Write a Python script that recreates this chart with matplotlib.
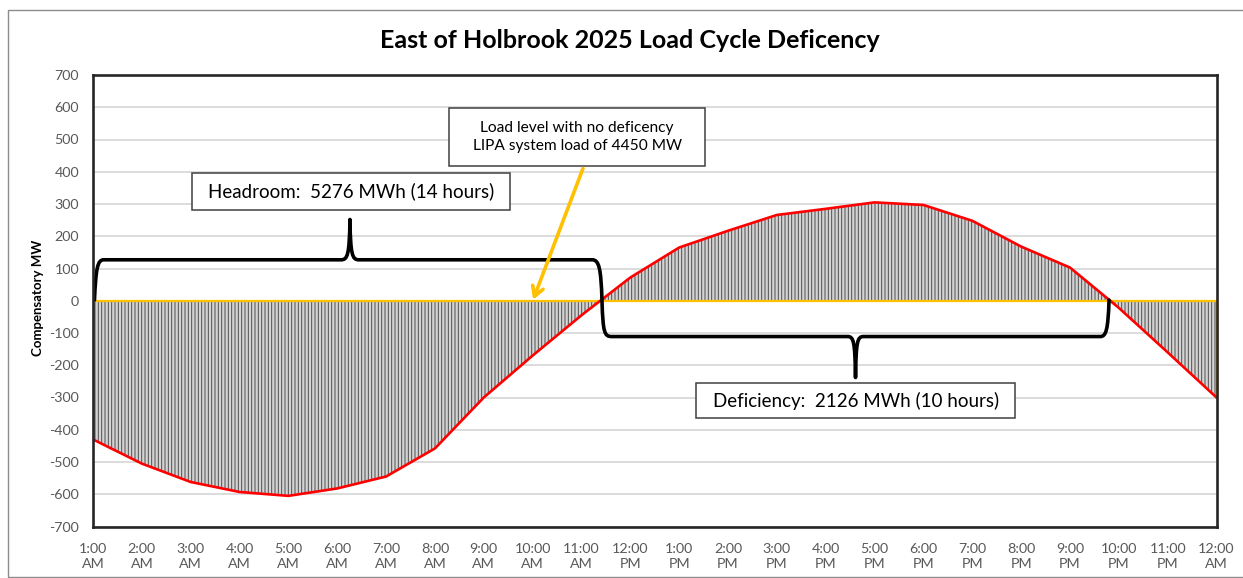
import matplotlib
matplotlib.use("Agg")
import matplotlib.pyplot as plt
from matplotlib.path import Path
from matplotlib.patches import PathPatch, Rectangle
import numpy as np

plt.rcParams['font.family'] = ['Lato', 'DejaVu Sans']
plt.rcParams['hatch.linewidth'] = 0.7

# ---- data ----
hours = ["1:00\nAM", "2:00\nAM", "3:00\nAM", "4:00\nAM", "5:00\nAM", "6:00\nAM",
         "7:00\nAM", "8:00\nAM", "9:00\nAM", "10:00\nAM", "11:00\nAM", "12:00\nPM",
         "1:00\nPM", "2:00\nPM", "3:00\nPM", "4:00\nPM", "5:00\nPM", "6:00\nPM",
         "7:00\nPM", "8:00\nPM", "9:00\nPM", "10:00\nPM", "11:00\nPM", "12:00\nAM"]
compensatory_mw = [-430, -505, -562, -593, -605, -582, -545, -458, -300, -170, -45, 72,
                   165, 217, 266, 285, 305, 297, 248, 168, 103, -22, -160, -300]
y_ticks = list(range(-700, 701, 100))

title = "East of Holbrook 2025 Load Cycle Deficency"
ylabel = "Compensatory MW"
headroom_text = "Headroom:  5276 MWh (14 hours)"
deficiency_text = "Deficiency:  2126 MWh (10 hours)"
loadlevel_text = "Load level with no deficency\nLIPA system load of 4450 MW"

W, H = 1243, 578
fig = plt.figure(figsize=(W / 100, H / 100), dpi=100)
ax = fig.add_axes([93 / W, 1 - 526.5 / H, (1216.5 - 93) / W, (526.5 - 75) / H])

# outer chart border (right side falls outside the image)
fig.patches.append(Rectangle((8 / W, 1 - 577 / H), (W + 60 - 8) / W, (577 - 10) / H,
                             transform=fig.transFigure, fill=False,
                             edgecolor='#8c8c8c', linewidth=1.0))

x = np.arange(len(compensatory_mw))
y = np.array(compensatory_mw, dtype=float)

# hatched fill
ax.fill_between(x, 0, y, facecolor='#d4d4d4', edgecolor='#4d4d4d', hatch='|||||',
                linewidth=0, zorder=2)
# orange outline of the fill region (zero line + end edges)
ax.plot([x[0], x[0]], [0, y[0]], color='#FFC000', lw=1.3, zorder=3)
ax.plot([x[-1], x[-1]], [0, y[-1]], color='#FFC000', lw=1.3, zorder=3)
ax.axhline(0, color='#FFC000', lw=1.6, zorder=3)
ax.plot(x, y, color='#FF0000', lw=1.9, zorder=4)

ax.set_xlim(0, len(x) - 1)
ax.set_ylim(-700, 700)
ax.set_yticks(y_ticks)
ax.set_xticks(x)
ax.set_xticklabels(hours, fontsize=10.3, color='#595959', linespacing=1.3)
ax.set_yticklabels([str(v) for v in y_ticks], fontsize=10.3, color='#595959')
ax.tick_params(axis='both', length=0)
ax.tick_params(axis='x', pad=12)
ax.tick_params(axis='y', pad=10)
ax.grid(axis='y', color='#d9d9d9', lw=1.3, zorder=0)
ax.set_axisbelow(True)
for s in ax.spines.values():
    s.set_color('#262626')
    s.set_linewidth(1.9)
    s.set_zorder(6)

fig.text(630 / W, 1 - 40 / H, title, ha='center', va='center', fontsize=18,
         fontweight='bold', color='#000000')
fig.text(38 / W, 1 - 298 / H, ylabel, ha='center', va='center', rotation=90,
         fontsize=9.5, fontweight='bold', color='#000000')

# ---- braces ----
M, L, C = Path.MOVETO, Path.LINETO, Path.CURVE4
top_y = 127
tip_top = 252
bot_y = -111
tip_bot = -238
verts = [
    (0.03, 2),
    (0.06, 100), (0.09, top_y), (0.22, top_y),
    (5.08, top_y),
    (5.21, top_y), (5.25, top_y + 15), (5.26, tip_top),
    (5.27, top_y + 15), (5.31, top_y), (5.44, top_y),
    (10.22, top_y),
    (10.36, top_y), (10.40, 100), (10.42, 0),
    (10.44, -100), (10.47, bot_y), (10.62, bot_y),
    (15.45, bot_y),
    (15.57, bot_y), (15.60, bot_y - 15), (15.61, tip_bot),
    (15.62, bot_y - 15), (15.65, bot_y), (15.77, bot_y),
    (20.62, bot_y),
    (20.74, bot_y), (20.78, -90), (20.80, 2),
]
codes = [M, C, C, C, L, C, C, C, C, C, C, L, C, C, C, C, C, C, L, C, C, C, C, C, C, L, C, C, C]
ax.add_patch(PathPatch(Path(verts, codes), fill=False, edgecolor='#000000', lw=2.6,
                       capstyle='round', joinstyle='round', zorder=5))

# ---- annotation boxes ----
def box(x0, x1, y0, y1, text, fs, ty=None):
    ax.add_patch(Rectangle((x0, y0), x1 - x0, y1 - y0, facecolor='white',
                           edgecolor='#404040', lw=1.1, zorder=7))
    ax.text((x0 + x1) / 2, (y0 + y1) / 2 if ty is None else ty, text, ha='center',
            va='center', fontsize=fs, color='#000000', zorder=8, linespacing=1.4)

box(2.03, 8.54, 282, 396, headroom_text, 13.5)
box(7.29, 12.53, 418, 598, loadlevel_text, 11.2)
box(12.35, 18.88, -365, -254, deficiency_text, 13.5)

ax.annotate('', xy=(9.01, 3), xytext=(10.03, 410),
            arrowprops=dict(arrowstyle='->,head_length=0.7,head_width=0.4',
                            color='#FFC000', lw=2.6, shrinkA=0, shrinkB=0), zorder=7)

fig.savefig('out.png', dpi=100)
